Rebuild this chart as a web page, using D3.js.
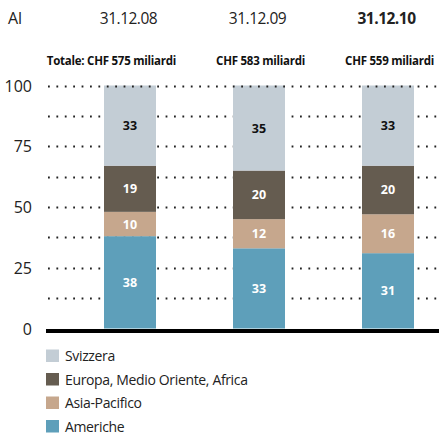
<!DOCTYPE html>
<html><head><meta charset="utf-8">
<script src="https://cdn.jsdelivr.net/npm/d3@7"></script>
<style>
body{margin:0;background:#fff;}
svg text{font-family:"Open Sans","Noto Sans",sans-serif;}
</style></head>
<body><svg id="c" width="439" height="433"></svg>
<script>
const dates = ["31.12.08","31.12.09","31.12.10"];
const totals = ["Totale: CHF 575 miliardi","CHF 583 miliardi","CHF 559 miliardi"];
const series = ["Americhe","Asia-Pacifico","Europa, Medio Oriente, Africa","Svizzera"];
const americhe = [38,33,31];
const asiaPacifico = [10,12,16];
const europa = [19,20,20];
const svizzera = [33,35,33];
const yTicks = [0,25,50,75,100];
const gridTicks = [12.5,25,37.5,50,62.5,75,87.5,100];
const colors = ["#5e9fba","#c6a78d","#655c50","#c3cdd5"];
const labelColors = ["#fff","#fff","#fff","#111"];
const legendOrder = ["Svizzera","Europa, Medio Oriente, Africa","Asia-Pacifico","Americhe"];

const values = [americhe, asiaPacifico, europa, svizzera];
const rows = dates.map((d,i)=>{const r={date:d}; series.forEach((s,j)=>r[s]=values[j][i]); return r;});
const stack = d3.stack().keys(series)(rows);

const svg = d3.select("#c");
const x = d3.scaleBand().domain(dates).range([39.5,478.5]).paddingInner(0.597).paddingOuter(0.5);
const y = d3.scaleLinear().domain([0,100]).range([328.5,85.5]);

// gridlines (dotted)
const gridG = svg.append("g");
gridG.selectAll("line").data(gridTicks.filter(t=>t<100)).join("line")
  .attr("x1",48).attr("x2",439).attr("y1",d=>Math.round(y(d))+0.5).attr("y2",d=>Math.round(y(d))+0.5)
  .attr("stroke","#222").attr("stroke-width",1.8).attr("stroke-dasharray","1.8 6.6");

// bars
const layers = svg.append("g").selectAll("g").data(stack).join("g").attr("fill",(d,i)=>colors[i]);
layers.selectAll("rect").data(d=>d).join("rect")
  .attr("x",d=>x(d.data.date)).attr("width",x.bandwidth())
  .attr("y",d=>y(d[1])).attr("height",d=>y(d[0])-y(d[1]));

// segment labels
stack.forEach((layer,i)=>{
  svg.append("g").selectAll("text").data(layer).join("text")
    .attr("x",d=>x(d.data.date)+x.bandwidth()/2)
    .attr("y",d=>(y(d[0])+y(d[1]))/2+4.5)
    .attr("text-anchor","middle").attr("font-size",12.5).attr("font-weight","bold")
    .attr("fill",labelColors[i]).text(d=>d[1]-d[0]);
});

// top gridline over bars
svg.append("line").attr("x1",48).attr("x2",439).attr("y1",Math.round(y(100))+0.5).attr("y2",Math.round(y(100))+0.5)
  .attr("stroke","#222").attr("stroke-width",1.8).attr("stroke-dasharray","1.8 6.6");

// baseline
svg.append("line").attr("x1",46).attr("x2",439).attr("y1",y(0)+2.5).attr("y2",y(0)+2.5)
  .attr("stroke","#000").attr("stroke-width",4);

// y axis labels
svg.append("g").selectAll("text").data(yTicks).join("text")
  .attr("x",32).attr("y",d=>y(d)+6).attr("text-anchor","end")
  .attr("font-size",16).attr("fill","#222").text(d=>d);

// header
svg.append("text").attr("x",8).attr("y",24).attr("font-size",16).attr("fill","#222").text("Al");
svg.append("g").selectAll("text").data(dates).join("text")
  .attr("x",d=>x(d)+x.bandwidth()/2-1.5).attr("y",24).attr("text-anchor","middle")
  .attr("font-size",15.5).attr("letter-spacing",-0.5).attr("fill","#222")
  .attr("font-weight",(d,i)=>i===2?"bold":"normal").text(d=>d);
svg.append("g").selectAll("text").data(dates).join("text")
  .attr("x",d=>x(d)+x.bandwidth()+20).attr("y",65).attr("text-anchor","end")
  .attr("font-size",11.5).attr("letter-spacing",-0.25).attr("font-weight","bold").attr("fill","#111").text((d,i)=>totals[i]);

// legend
const lg = svg.append("g").selectAll("g").data(legendOrder).join("g")
  .attr("transform",(d,i)=>`translate(46,${349.5+i*23.5})`);
lg.append("rect").attr("width",13).attr("height",12.5).attr("fill",d=>colors[series.indexOf(d)]);
lg.append("text").attr("x",19).attr("y",11.5).attr("font-size",14).attr("letter-spacing",-0.35).attr("fill","#222").text(d=>d);
</script></body></html>
